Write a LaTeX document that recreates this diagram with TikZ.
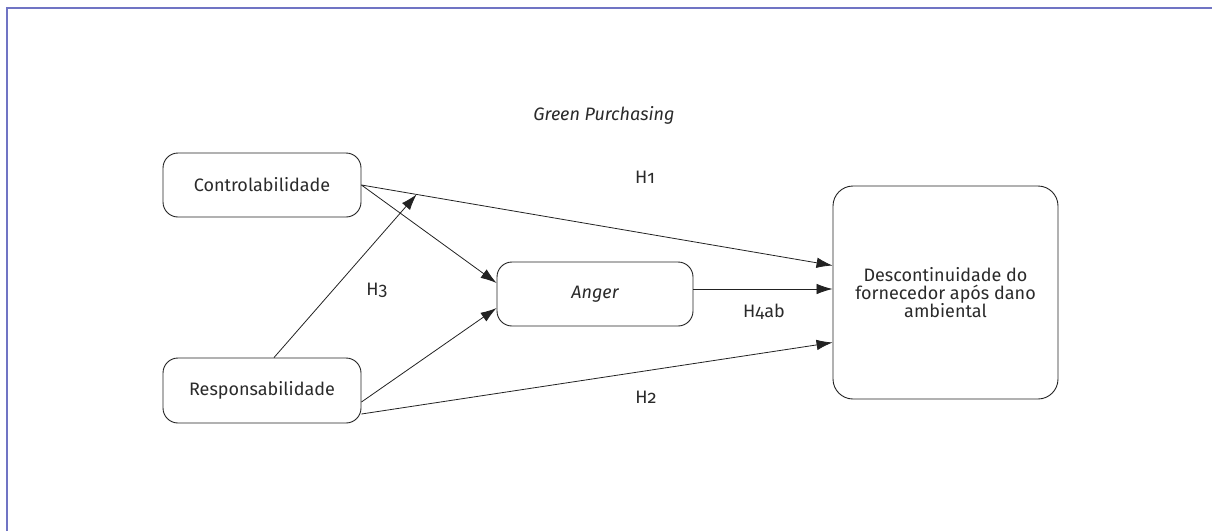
\documentclass[tikz,border=0pt]{standalone}
\usepackage{fontspec}
\setmainfont{Fira Sans}[Numbers=OldStyle]
\usetikzlibrary{arrows.meta}
\definecolor{frame}{HTML}{7074C4}
\definecolor{ink}{HTML}{222222}
\definecolor{txt}{HTML}{2A2A2A}
\begin{document}
\begin{tikzpicture}[x=1pt,y=-1pt,
  box/.style={draw=ink, line width=0.9pt, rounded corners=15pt, align=center, text=txt, font=\fontsize{18}{18}\selectfont, inner sep=0pt},
  lbl/.style={text=txt, font=\fontsize{18}{18}\selectfont, inner sep=0pt},
  arr/.style={draw=ink, line width=0.8pt, -{Latex[length=16pt,width=10.5pt]}}]
\useasboundingbox (0,0) rectangle (1212,531);
\draw[frame, line width=1.6pt] (7,531) -- (7,8) -- (1212,8);
\node[box, minimum width=198pt, minimum height=64pt] (c) at (262,185) {Controlabilidade};
\node[box, minimum width=198pt, minimum height=65pt] (r) at (262,390.5) {Responsabilidade};
\node[box, minimum width=196pt, minimum height=64pt] (a) at (595,294) {\itshape Anger};
\node[box, rounded corners=20pt, minimum width=225pt, minimum height=213pt] (d) at (945.5,292.5) {Descontinuidade do\\fornecedor após dano\\ambiental};
\node[lbl] (gp) at (604,115) {\itshape Green Purchasing};
\node[lbl] (h1) at (645,177) {H1};
\node[lbl] (h3) at (377,290) {H3};
\node[lbl] (h4) at (764,312) {H4ab};
\node[lbl] (h2) at (646,397) {H2};
\path (c.east) -- ([yshift=27pt]d.west) coordinate[pos=0.117] (m);
\draw[arr] (c.east) -- ([yshift=27pt]d.west);
\draw[arr] (c.east) -- ([yshift=11pt]a.west);
\draw[arr] ([xshift=12pt]r.north) -- (m);
\draw[arr] ([yshift=-11.5pt]r.east) -- ([yshift=-14pt]a.west);
\draw[arr] ([yshift=-23.5pt]r.east) -- ([yshift=-50pt]d.west);
\draw[arr] ([yshift=5pt]a.east) -- ([yshift=3.5pt]d.west);
\end{tikzpicture}
\end{document}
